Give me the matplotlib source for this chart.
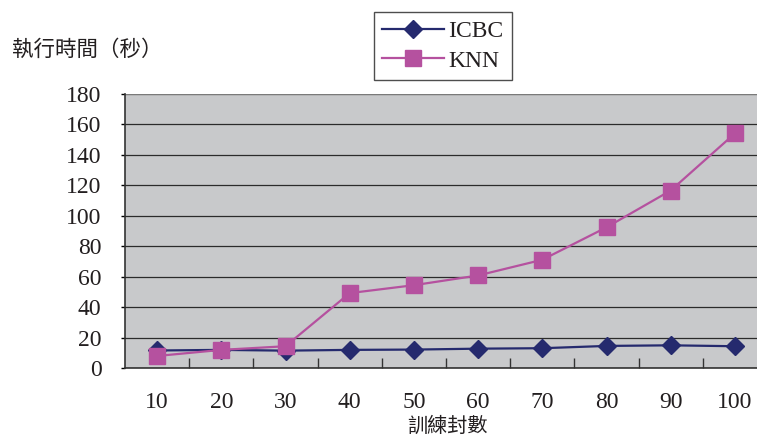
import matplotlib
matplotlib.use("Agg")
import matplotlib.pyplot as plt
import numpy as np

# 訓練封數 vs 執行時間
categories = ["10", "20", "30", "40", "50", "60", "70", "80", "90", "100"]
icbc = [11.5, 11.9, 11.4, 11.9, 12.1, 12.7, 13.0, 14.5, 14.9, 14.3]
knn = [7.9, 11.9, 14.3, 49.2, 54.4, 60.8, 71.1, 92.4, 116.6, 154.1]
y_ticks = [0, 20, 40, 60, 80, 100, 120, 140, 160, 180]

serif = ["Liberation Serif", "DejaVu Serif"]
cjk = ["Noto Sans CJK TC", "DejaVu Sans"]
txt_color = "#231f20"

fig = plt.figure(figsize=(7.57, 4.38), dpi=100)
ax = fig.add_axes([125 / 757, 70 / 438, 642 / 757, 274 / 438])
ax.set_facecolor("#c8c9cb")

x = np.arange(len(categories))
ax.plot(x, icbc, color="#252a6e", lw=1.6, marker="D", ms=9,
        label="ICBC", zorder=3)
ax.plot(x, knn, color="#b5519f", lw=1.6, marker="s", ms=11,
        label="KNN", zorder=4)

ax.set_xlim(-0.5, len(categories) - 0.5)
ax.set_ylim(0, 180)
ax.set_yticks(y_ticks)
ax.yaxis.grid(True, color="#2b2b2b", lw=0.9)
ax.set_axisbelow(True)

ax.set_xticks(x)
ax.set_xticklabels(categories)
ax.set_xticks(np.arange(0.5, len(categories) - 0.5, 1), minor=True)
ax.tick_params(axis="x", which="major", length=0, pad=17)
ax.tick_params(axis="x", which="minor", direction="in", length=7,
               width=1, color="#333333")
ax.tick_params(axis="y", direction="out", length=3, width=1, pad=14)
for lab in ax.get_xticklabels() + ax.get_yticklabels():
    lab.set_family(serif)
    lab.set_fontsize(17)
    lab.set_color(txt_color)

for side in ["top", "right"]:
    ax.spines[side].set_visible(False)
ax.spines["left"].set_color("#333333")
ax.spines["bottom"].set_color("#333333")
ax.spines["left"].set_linewidth(1.2)
ax.spines["bottom"].set_linewidth(1.2)
ax.axhline(180, color="#8a8a8a", lw=1.2, zorder=1)

fig.text(12 / 757, 1 - 50 / 438, "執行時間（秒）", family=cjk, fontsize=15.5,
         color=txt_color, va="center", ha="left")
fig.text(447 / 757, 1 - 426 / 438, "訓練封數", family=cjk, fontsize=14.5,
         color=txt_color, va="center", ha="center")

leg = fig.legend(loc="upper left", bbox_to_anchor=(374 / 757, 1 - 12 / 438),
                 prop={"family": serif, "size": 17}, frameon=True,
                 fancybox=False, handlelength=2.6, labelspacing=0.35,
                 borderpad=0.35, handletextpad=0.2, borderaxespad=0)
leg.get_frame().set_edgecolor("#222222")
leg.get_frame().set_linewidth(1.0)
for t in leg.get_texts():
    t.set_color(txt_color)

fig.savefig("out.png", dpi=100)
